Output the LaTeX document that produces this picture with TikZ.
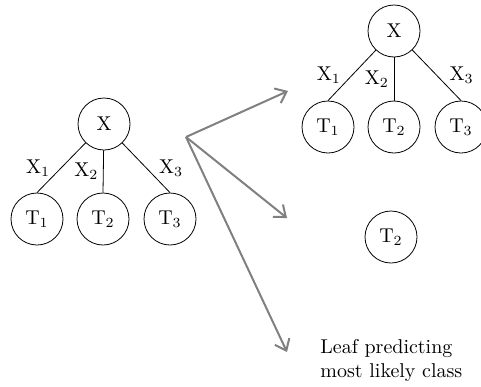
\documentclass[tikz,border=0pt]{standalone}
\usepackage{amsmath}
\usetikzlibrary{arrows.meta}

\begin{document}
\begin{tikzpicture}[x=0.5pt,y=-0.5pt,>={Straight Barb[length=5pt,width=8pt]}]
        \useasboundingbox (0,0) rectangle (481,386);
        % original subtree
        \node[shape=circle,draw=black,minimum size=26pt,inner sep=0pt] (X) at (104,124) {X};
        \node[shape=circle,draw=black,minimum size=26pt,inner sep=0pt] (T1) at (37,219) {T$_1$};
        \node[shape=circle,draw=black,minimum size=26pt,inner sep=0pt] (T2) at (103,219) {T$_2$};
        \node[shape=circle,draw=black,minimum size=26pt,inner sep=0pt] (T3) at (170,219) {T$_3$};
        \path [-] (X) edge node[left=2pt]{X$_1$}(T1.north);
        \path [-] (X) edge node[left=-1pt]{X$_2$}(T2.north);
        \path [-] (X) edge node[right=3pt]{X$_3$}(T3.north);
        % kept subtree
        \node[shape=circle,draw=black,minimum size=26pt,inner sep=0pt] (RX) at (394,31) {X};
        \node[shape=circle,draw=black,minimum size=26pt,inner sep=0pt] (RT1) at (328,127) {T$_1$};
        \node[shape=circle,draw=black,minimum size=26pt,inner sep=0pt] (RT2) at (394,127) {T$_2$};
        \node[shape=circle,draw=black,minimum size=26pt,inner sep=0pt] (RT3) at (461,127) {T$_3$};
        \path [-] (RX) edge node[left=2pt]{X$_1$}(RT1.north);
        \path [-] (RX) edge node[left=-1pt]{X$_2$}(RT2.north);
        \path [-] (RX) edge node[right=3pt]{X$_3$}(RT3.north);
        % raised subtree
        \node[shape=circle,draw=black,minimum size=26pt,inner sep=0pt] (PT2) at (391,237) {T$_2$};
        % leaf
        \node[anchor=west,align=left,inner sep=0pt] (L) at (320,360) {Leaf predicting\\most likely class};
        % options
        \coordinate (O) at (186,137);
        \coordinate (A1) at (288,91);
        \coordinate (A2) at (287,218);
        \coordinate (A3) at (287,352);
        \draw [->,line width=1pt,gray] (O) -- (A1);
        \draw [->,line width=1pt,gray] (O) -- (A2);
        \draw [->,line width=1pt,gray] (O) -- (A3);
    \end{tikzpicture}
\end{document}
